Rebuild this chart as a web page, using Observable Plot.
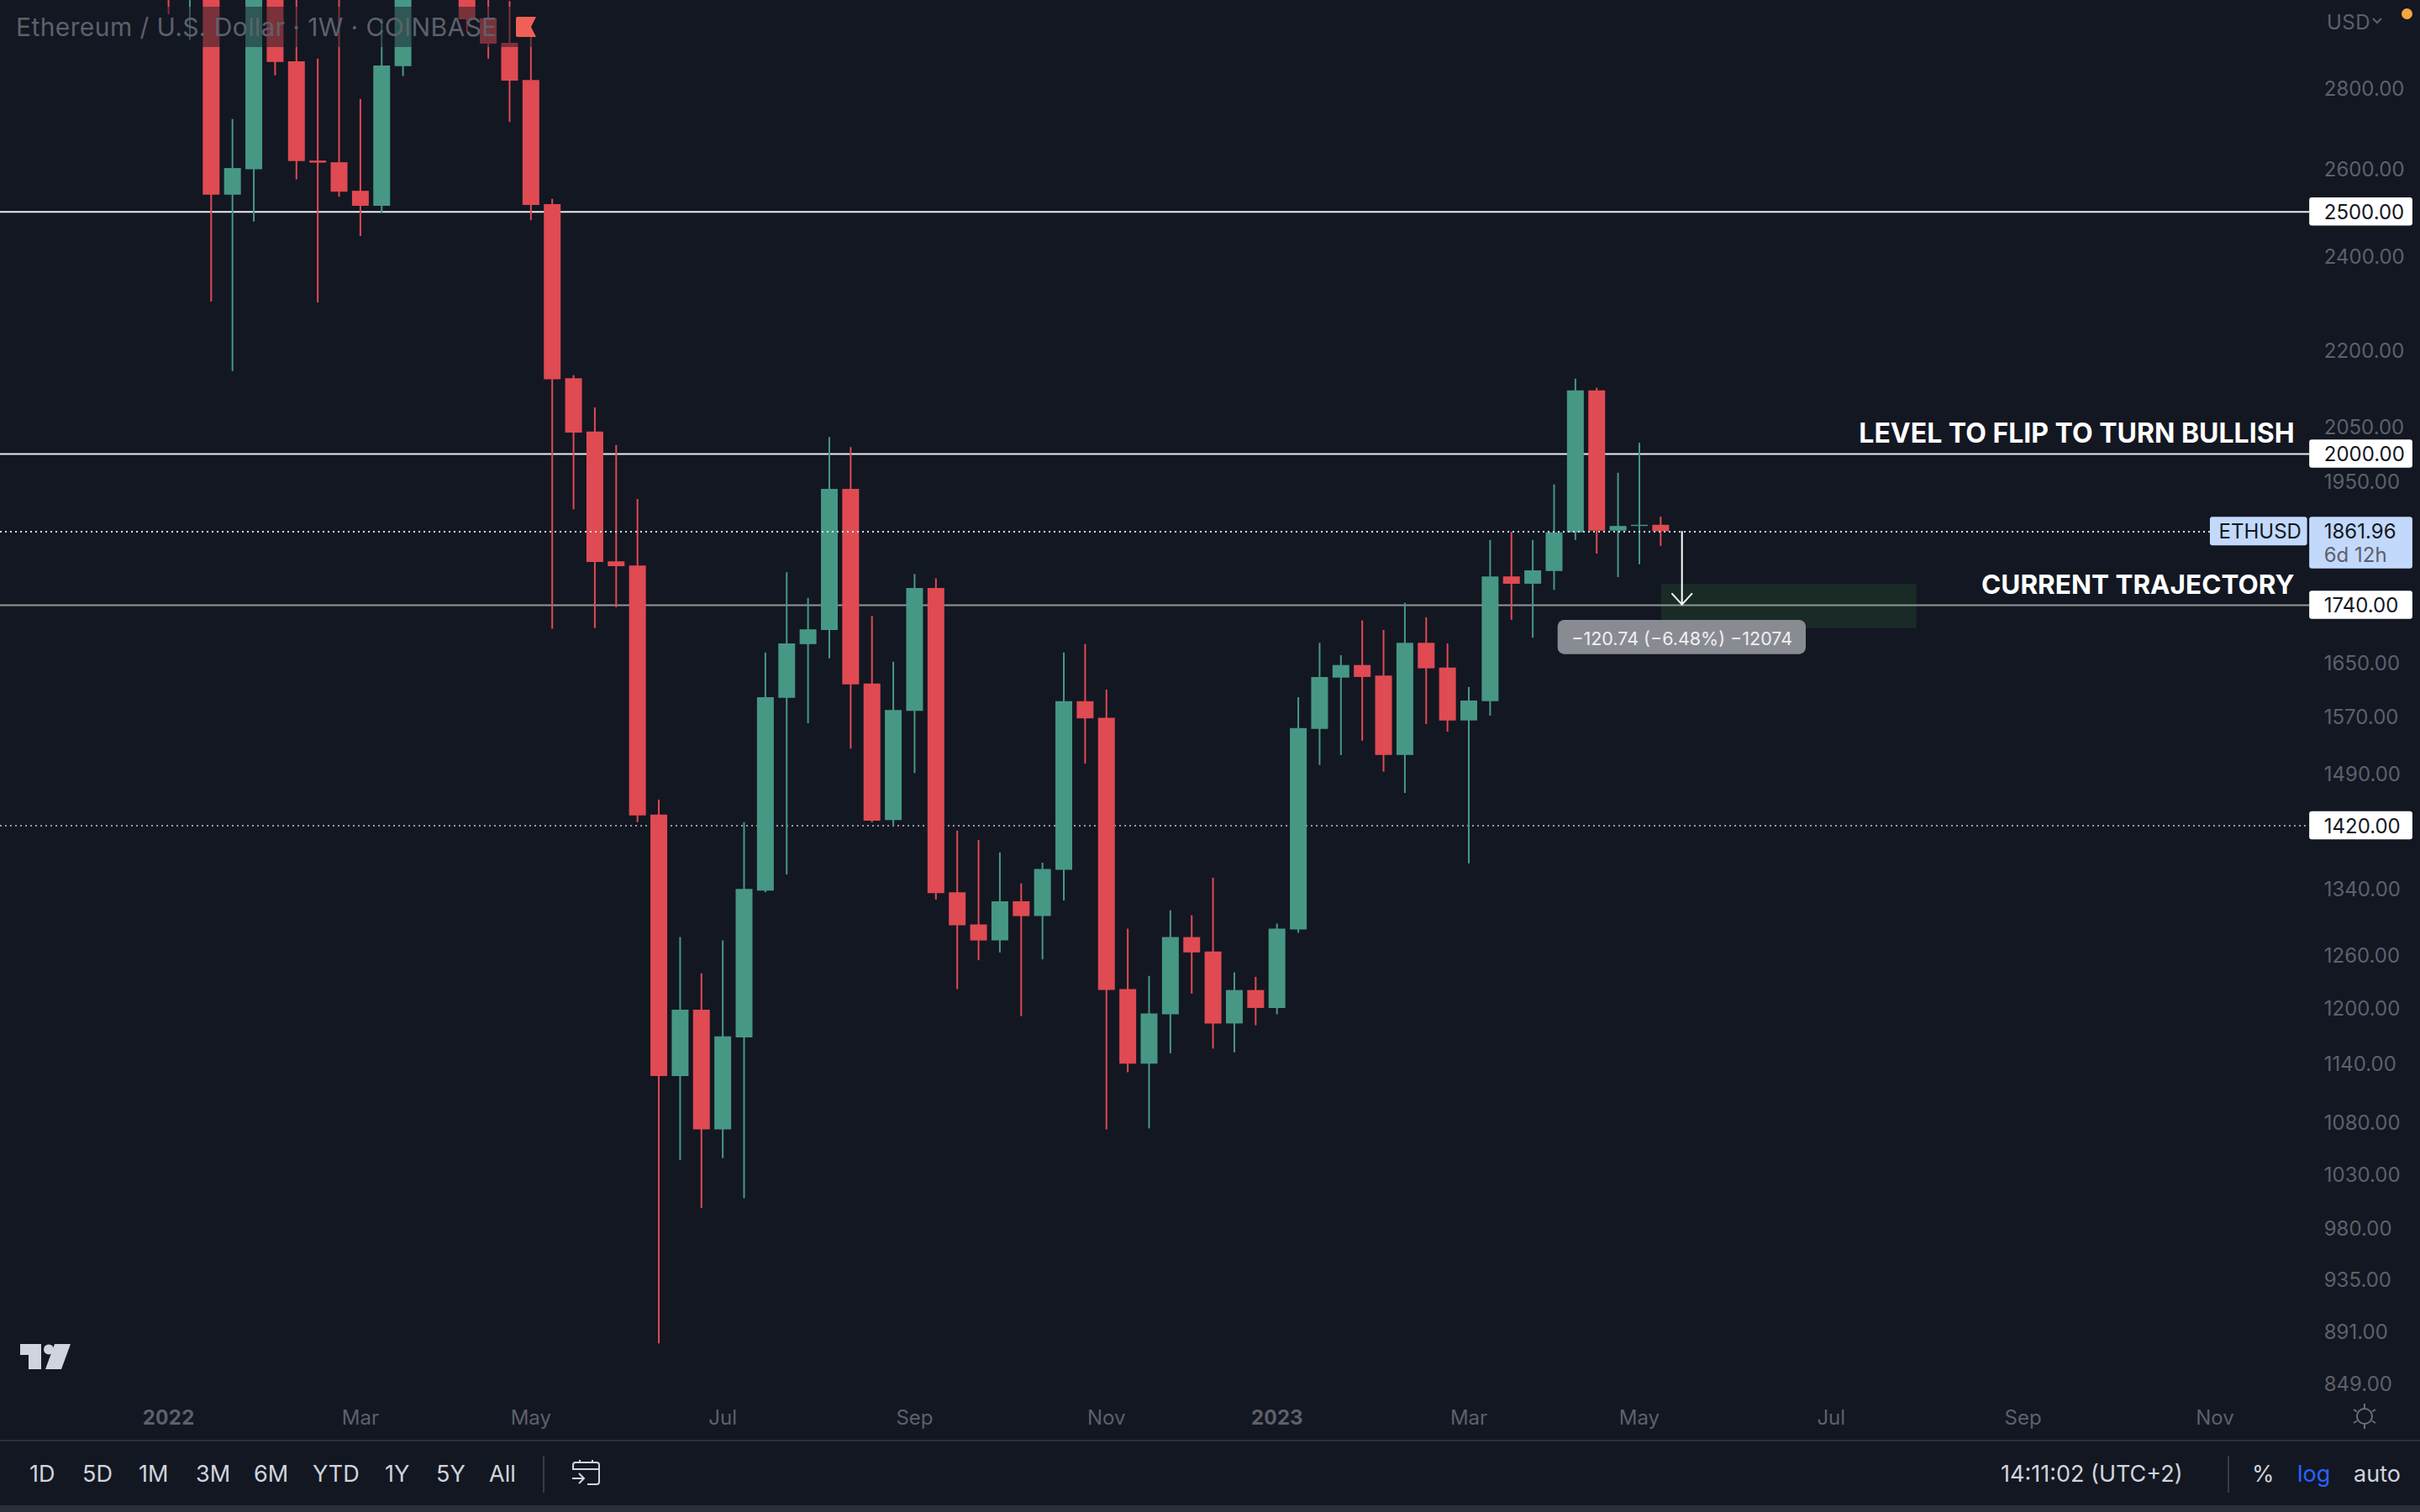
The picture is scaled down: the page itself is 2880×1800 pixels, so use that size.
<!DOCTYPE html>
<html>
<head>
<meta charset="utf-8">
<script src="https://cdn.jsdelivr.net/npm/d3@7"></script>
<script src="https://cdn.jsdelivr.net/npm/@observablehq/plot@0.6"></script>
<style>
html,body{margin:0;padding:0;background:#131722;overflow:hidden;font-family:Inter,sans-serif}
#wrap{position:relative;width:2880px;height:1800px;background:#131722;overflow:hidden}
#chart svg{display:block}
[aria-label="price-axis"] text,[aria-label="level-label"] text{letter-spacing:1px}
[aria-label="pill-label"] text{letter-spacing:.9px}
#legend{position:absolute;left:0;top:8px;width:645px;height:48px;background:rgba(19,23,34,.5);color:#5d606b;font-size:30px;line-height:48px;white-space:nowrap;letter-spacing:.4px}
#legend span{position:absolute;left:19px;top:0}
#legend svg{position:absolute;left:614px;top:12px}
#usd{position:absolute;left:2769px;top:13px;color:#5d606b;font-size:24px;line-height:28px;letter-spacing:.5px}
#chev{position:absolute;left:2823px;top:21px}
#dot{position:absolute;left:2857.5px;top:9.5px;width:13px;height:13px;border-radius:50%;background:#f5a63c}
#logo{position:absolute;left:24px;top:1600px}
#sun{position:absolute;left:2798px;top:1670px}
#divider{position:absolute;left:0;top:1714px;width:2880px;height:2px;background:#2a2e39}
#toolbar{position:absolute;left:0;top:1716px;width:2880px;height:76px;color:#d1d4dc;font-size:27px;line-height:78px}
#toolbar span{position:absolute;top:0;white-space:nowrap}
#toolbar i{position:absolute;top:17px;width:2px;height:44px;background:#363a45}
#toolbar svg{position:absolute;left:681px;top:22px}
#foot{position:absolute;left:0;top:1792px;width:2880px;height:8px;background:#2a2e39}
</style>
</head>
<body>
<div id="wrap">
  <div id="chart"></div>
  <div id="legend"><span>Ethereum / U.S. Dollar · 1W · COINBASE</span>
    <svg width="24" height="24" viewBox="0 0 24 24"><path d="M2 0H24L18 12L24 24H2Q0 24 0 22V2Q0 0 2 0Z" fill="#f06057"/></svg></div>
  <div id="usd">USD</div>
  <svg id="chev" width="12" height="8" viewBox="0 0 12 8" fill="none" stroke="#5d606b" stroke-width="2"><path d="M1 1L6 6L11 1"/></svg>
  <div id="dot"></div>
  <svg id="logo" width="60" height="30" viewBox="0 0 60 30" fill="#d1d4dc"><path d="M0 0H25V30H10V13H0Z"/><circle cx="34" cy="6.5" r="6"/><path d="M41 0H60L49 30H30Z"/></svg>
  <svg id="sun" width="32" height="32" viewBox="0 0 32 32" fill="none" stroke="#6b6e78" stroke-width="2"><circle cx="16" cy="16" r="9"/><path d="M16 1V6M16 26V31M3 8L7 10.500M25 21.500L29 24M3 24L7 21.500M25 10.500L29 8"/></svg>
  <div id="divider"></div>
  <div id="toolbar">
    <span style="left:35px">1D</span><span style="left:98px">5D</span><span style="left:165px">1M</span>
    <span style="left:233px">3M</span><span style="left:302px">6M</span><span style="left:372px">YTD</span>
    <span style="left:458px">1Y</span><span style="left:519px">5Y</span><span style="left:582px">All</span>
    <i style="left:646px"></i>
    <svg width="33" height="30" viewBox="0 0 33 30" fill="none" stroke="#d1d4dc" stroke-width="2"><path d="M1 12V6Q1 3 4 3H29Q32 3 32 6V26Q32 29 29 29H18M1 11H32M9 0V4M24 0V4M0 22H13M8 16L14 22L8 28"/></svg>
    <span style="left:2381px">14:11:02 (UTC+2)</span>
    <i style="left:2651px"></i>
    <span style="left:2680px">%</span><span style="left:2734px;color:#2962ff">log</span><span style="left:2801px">auto</span>
  </div>
  <div id="foot"></div>
</div>
<script>
const weeks = ["2022-01-03","2022-01-10","2022-01-17","2022-01-24","2022-01-31","2022-02-07","2022-02-14","2022-02-21","2022-02-28","2022-03-07","2022-03-14","2022-03-21","2022-03-28","2022-04-04","2022-04-11","2022-04-18","2022-04-25","2022-05-02","2022-05-09","2022-05-16","2022-05-23","2022-05-30","2022-06-06","2022-06-13","2022-06-20","2022-06-27","2022-07-04","2022-07-11","2022-07-18","2022-07-25","2022-08-01","2022-08-08","2022-08-15","2022-08-22","2022-08-29","2022-09-05","2022-09-12","2022-09-19","2022-09-26","2022-10-03","2022-10-10","2022-10-17","2022-10-24","2022-10-31","2022-11-07","2022-11-14","2022-11-21","2022-11-28","2022-12-05","2022-12-12","2022-12-19","2022-12-26","2023-01-02","2023-01-09","2023-01-16","2023-01-23","2023-01-30","2023-02-06","2023-02-13","2023-02-20","2023-02-27","2023-03-06","2023-03-13","2023-03-20","2023-03-27","2023-04-03","2023-04-10","2023-04-17","2023-04-24","2023-05-01","2023-05-08"];
const opens  = [3760,3200,3330,2539,2599,3060,2871,2620,2616,2548,2513,2858,3150,3280,3100,2987,2920,2822,2517,2144,2041,1811,1804,1434,1127,1198,1073,1168,1337,1597,1678,1700,1936,1618,1427,1578,1767,1335,1296,1277,1324,1306,1363,1592,1568,1221,1140,1193,1281,1264,1183,1220,1200,1290,1552,1627,1646,1630,1515,1680,1642,1564,1592,1786,1774,1795,1860,2120,1863,1871,1873];
const highs  = [3830,3410,3420,2722,3180,3280,3130,2878,3050,2773,2986,3240,3480,3580,3180,3050,3035,2960,2529,2150,2087,2016,1918,1454,1281,1239,1277,1424,1665,1793,1751,2031,2012,1722,1651,1790,1783,1413,1401,1385,1346,1372,1665,1678,1609,1291,1236,1313,1307,1353,1240,1235,1297,1598,1680,1661,1715,1700,1743,1720,1679,1613,1847,1861,1847,1944,2143,2125,1965,2020,1887];
const lows   = [2998,2928,2301,2158,2477,2834,2575,2299,2534,2444,2497,2832,3060,3060,2950,2878,2715,2480,1702,1900,1703,1736,1424,881,1043,998,1045,1007,1335,1357,1560,1656,1524,1424,1419,1490,1326,1221,1254,1263,1191,1255,1325,1503,1073,1131,1074,1151,1216,1156,1152,1181,1193,1286,1501,1515,1535,1492,1463,1559,1548,1371,1571,1716,1688,1764,1847,1824,1785,1806,1837];
const closes = [3200,3330,2539,2602,3060,2869,2619,2615,2546,2513,2860,3150,3280,3100,2984,2918,2820,2515,2142,2039,1810,1803,1433,1127,1198,1073,1169,1339,1598,1679,1701,1936,1617,1426,1579,1767,1334,1295,1277,1324,1306,1364,1592,1567,1220,1140,1194,1281,1263,1183,1220,1200,1291,1553,1628,1646,1628,1515,1680,1641,1564,1593,1786,1774,1796,1860,2120,1863,1871,1873,1861.96];

const axisPrices = [849,891,935,980,1030,1080,1140,1200,1260,1340,1490,1570,1650,1950,2050,2200,2400,2600,2800];
const monthTicks = ["2022-03-07","2022-05-02","2022-07-04","2022-09-05","2022-11-07","2023-03-06","2023-05-01","2023-07-03","2023-09-04","2023-11-06"];
const monthNames = ["Mar","May","Jul","Sep","Nov","Mar","May","Jul","Sep","Nov"];
const yearTicks  = ["2022-01-03","2023-01-02"];
const yearNames  = ["2022","2023"];
const solidLevels = [2500,2000];
const dimLevel = 1740;
const dotLevel = 1420;
const lastPrice = 1861.96;
const levelLabels = [2500,2000,1740,1420];

const C = weeks.map((w,i)=>({date:new Date(w),open:opens[i],high:highs[i],low:lows[i],close:closes[i]}));
const up = C.filter(d=>d.close>=d.open), down = C.filter(d=>d.close<d.open);
const d_ = s => new Date(s);
const GREEN="#469884", RED="#e04a52", AX="#5d606b";
const xStart=d_("2021-11-08T19:00Z"), xEnd=d_("2024-01-12T12:00Z");
const boxL=d_("2023-12-07T03:00Z"), boxR=d_("2024-01-10"), textL=d_("2023-12-11T20:00Z");
const annoR=d_("2023-12-02T03:00Z"), arrowX=d_("2023-05-15T00:00Z");
const font="Inter, sans-serif";

function candles(data,color){return [
  Plot.ruleX(data,{x:"date",y1:"low",y2:"high",stroke:color,strokeWidth:2,clip:true}),
  Plot.ruleX(data,{x:"date",y1:"open",y2:"close",stroke:color,strokeWidth:20,clip:true})
];}

const chart = Plot.plot({
  width:2880,height:1715,
  marginTop:0,marginRight:0,marginBottom:55,marginLeft:0,
  style:{background:"transparent",fontFamily:font},
  x:{type:"utc",domain:[xStart,xEnd],axis:null},
  y:{type:"log",domain:[840.5,3037.8],axis:null},
  marks:[
    Plot.ruleY(solidLevels,{x1:xStart,x2:boxL,stroke:"#ececec",strokeWidth:2}),
    Plot.ruleY([dimLevel],{x1:xStart,x2:boxL,stroke:"#959595",strokeWidth:2}),
    Plot.ruleY([dotLevel],{x1:xStart,x2:boxL,stroke:"#9a9a9a",strokeWidth:2,strokeDasharray:"2,4"}),
    ...candles(up,GREEN),...candles(down,RED),
    Plot.ruleY([lastPrice],{x1:xStart,x2:d_("2023-11-04T12:00Z"),stroke:"#cfe0fb",strokeWidth:2,strokeDasharray:"2,4"}),

    Plot.rect([0],{x1:d_("2023-05-08T07:00Z"),x2:d_("2023-07-31T03:00Z"),y1:1703,y2:1774,fill:"#4caf50",fillOpacity:.13}),
    Plot.arrow([0],{x1:arrowX,x2:arrowX,y1:lastPrice,y2:1741,stroke:"#fff",strokeWidth:2,bend:0,headLength:13,headAngle:85,inset:0}),
    Plot.rect([0],{x1:d_("2023-04-04T07:00Z"),x2:d_("2023-06-24T19:00Z"),y1:1662.7,y2:1715.8,fill:"#888b92",rx:8}),
    Plot.text(["−120.74 (−6.48%) −12074"],{ariaLabel:"pill-label",x:arrowX,y:1689.3,dy:2,text:d=>d,fill:"#f0f0f2",fontSize:21.5,textAnchor:"middle",fontFamily:font}),

    Plot.text(["LEVEL TO FLIP TO TURN BULLISH"],{x:annoR,y:2038,dy:1,text:d=>d,fill:"#fff",fontSize:32,fontWeight:700,textAnchor:"end",fontFamily:font}),
    Plot.text(["CURRENT TRAJECTORY"],{x:annoR,y:1775,dy:2,text:d=>d,fill:"#fff",fontSize:31.5,fontWeight:700,textAnchor:"end",fontFamily:font}),

    Plot.text(axisPrices,{ariaLabel:"price-axis",x:textL,y:d=>d,dy:1,text:d=>d3.format(".2f")(d),fill:AX,fontSize:24,textAnchor:"start",fontFamily:font}),
    Plot.axisX({ticks:monthTicks.map(d_),tickSize:0,tickPadding:18,label:null,fontSize:24,fill:AX,color:AX,tickFormat:d=>monthNames[monthTicks.findIndex(m=>+d_(m)===+d)],fontFamily:font}),
    Plot.axisX({ticks:yearTicks.map(d_),tickSize:0,tickPadding:18,label:null,fontSize:24,fontWeight:700,fill:AX,color:AX,tickFormat:d=>yearNames[yearTicks.findIndex(m=>+d_(m)===+d)],fontFamily:font}),

    Plot.rect(levelLabels,{y1:d=>d*.98716,y2:d=>d*1.01301,x1:boxL,x2:boxR,fill:"#fff",rx:3}),
    Plot.text(levelLabels,{ariaLabel:"level-label",x:textL,y:d=>d,dy:1,text:d=>d3.format(".2f")(d),fill:"#131722",fontSize:24,textAnchor:"start",fontFamily:font}),
    Plot.rect([0],{x1:d_("2023-11-04T12:00Z"),x2:d_("2023-12-06T10:00Z"),y1:1838,y2:1887,fill:"#c3d9fb",rx:3}),
    Plot.rect([0],{x1:boxL,x2:boxR,y1:1799,y2:1887,fill:"#c3d9fb",rx:3}),
    Plot.text(["ETHUSD"],{x:d_("2023-11-07T07:00Z"),y:lastPrice,text:d=>d,fill:"#131722",fontSize:24,textAnchor:"start",fontFamily:font}),
    Plot.text([lastPrice],{ariaLabel:"level-label",x:textL,y:lastPrice,text:d=>d3.format(".2f")(d),fill:"#131722",fontSize:24,textAnchor:"start",fontFamily:font}),
    Plot.text(["6d 12h"],{ariaLabel:"level-label",x:textL,y:1822,text:d=>d,fill:"#5d606b",fontSize:24,textAnchor:"start",fontFamily:font})
  ]
});
document.getElementById("chart").appendChild(chart);
</script>
</body>
</html>
